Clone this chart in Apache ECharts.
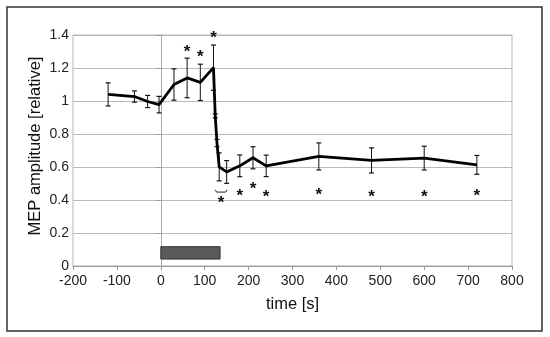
<!DOCTYPE html>
<html><head><meta charset="utf-8">
<script src="https://cdn.jsdelivr.net/npm/echarts@6/dist/echarts.min.js"></script>
<style>html,body{margin:0;padding:0;background:#fff}#c{width:550px;height:337px}</style>
</head><body><div id="c"></div>
<script>
const times = [-120,-60,-30,-4,30,60,90,120,124,128,133,150,180,210,240,360,480,600,720];
const means = [1.04,1.027,0.997,0.978,1.10,1.14,1.113,1.202,0.91,0.745,0.601,0.57,0.607,0.656,0.607,0.664,0.640,0.654,0.613];
const errs  = [0.07,0.034,0.037,0.05,0.095,0.12,0.11,0.137,0.012,0.022,0.085,0.069,0.066,0.067,0.065,0.082,0.076,0.072,0.057];
const starTimes  = [60,90,120,137,180,210,240,360,480,600,720];
const starValues = [1.32,1.29,1.407,0.405,0.447,0.491,0.445,0.457,0.445,0.445,0.448];
const bracketTimes  = [124,127,148,151];
const bracketValues = [0.462,0.448,0.448,0.462];
const stimStart = 0, stimEnd = 135, stimLow = 0.042, stimHigh = 0.117;
const xTicks = [-200,800,100];
const yTicks = [0,1.4,0.2];

const chart = echarts.init(document.getElementById('c'), null, {renderer:'canvas'});
const font = 'Liberation Sans, Arial, sans-serif';
const lineData = times.map((t,i)=>[t,means[i]]);
const errData = times.map((t,i)=>[t,means[i]-errs[i],means[i]+errs[i]]);
const starData = starTimes.map((t,i)=>[t,starValues[i]]);
const bracketData = bracketTimes.map((t,i)=>[t,bracketValues[i]]);

chart.setOption({
  animation:false,
  backgroundColor:'#fff',
  grid:{left:73,right:38,top:35,bottom:71,show:true,borderColor:'#b4b4b4',borderWidth:1},
  xAxis:{type:'value',min:xTicks[0],max:xTicks[1],interval:xTicks[2],
    name:'time [s]',nameLocation:'middle',nameGap:30,
    nameTextStyle:{fontSize:16.5,color:'#111',fontFamily:font},
    axisLine:{show:true,onZero:false,lineStyle:{color:'#999'}},
    axisTick:{show:true,length:4,lineStyle:{color:'#999'}},
    axisLabel:{fontSize:14,color:'#222',fontFamily:font,margin:8},
    splitLine:{show:false}},
  yAxis:{type:'value',min:yTicks[0],max:yTicks[1],interval:yTicks[2],
    axisLine:{show:true,onZero:true,lineStyle:{color:'#aaa'}},
    axisTick:{show:true,length:4,lineStyle:{color:'#999'}},
    axisLabel:{fontSize:14,color:'#222',fontFamily:font,margin:4},
    splitLine:{show:true,lineStyle:{color:'#b9b9b9',width:1}}},
  graphic:[
    {type:'rect',shape:{x:7,y:7,width:535,height:324},style:{fill:'none',stroke:'#333',lineWidth:1.5},z:100},
    {type:'text',x:35,y:146,rotation:Math.PI/2,style:{text:'MEP amplitude [relative]',font:'16.5px '+font,fill:'#111',textAlign:'center',textVerticalAlign:'middle'}}
  ],
  series:[
    {type:'custom',z:3,renderItem:function(params,api){
        const p1=api.coord([stimStart,stimHigh]);const p2=api.coord([stimEnd,stimLow]);
        return {type:'rect',shape:{x:p1[0],y:p1[1],width:p2[0]-p1[0],height:p2[1]-p1[1]},style:{fill:'#5a5a5a',stroke:'#333',lineWidth:1}};
      },data:[[stimStart,stimLow]]},
    {type:'custom',z:4,renderItem:function(params,api){
        const x=api.value(0);const lo=api.coord([x,api.value(1)]);const hi=api.coord([x,api.value(2)]);
        const w=2.5;
        return {type:'group',children:[
          {type:'line',shape:{x1:lo[0],y1:lo[1],x2:hi[0],y2:hi[1]},style:{stroke:'#111',lineWidth:1}},
          {type:'line',shape:{x1:lo[0]-w,y1:lo[1],x2:lo[0]+w,y2:lo[1]},style:{stroke:'#111',lineWidth:1.2}},
          {type:'line',shape:{x1:hi[0]-w,y1:hi[1],x2:hi[0]+w,y2:hi[1]},style:{stroke:'#111',lineWidth:1.2}}
        ]};
      },encode:{x:0,y:[1,2]},data:errData},
    {type:'line',z:5,data:lineData,showSymbol:false,symbol:'none',lineStyle:{color:'#000',width:2.8}},
    {type:'line',z:5,data:bracketData,showSymbol:false,symbol:'none',lineStyle:{color:'#222',width:1}},
    {type:'custom',z:6,renderItem:function(params,api){
        const p=api.coord([api.value(0),api.value(1)]);
        return {type:'text',style:{text:'*',x:p[0],y:p[1]+4.5,font:'bold 17px '+font,fill:'#111',textAlign:'center',textVerticalAlign:'middle'}};
      },data:starData}
  ]
});
</script></body></html>
